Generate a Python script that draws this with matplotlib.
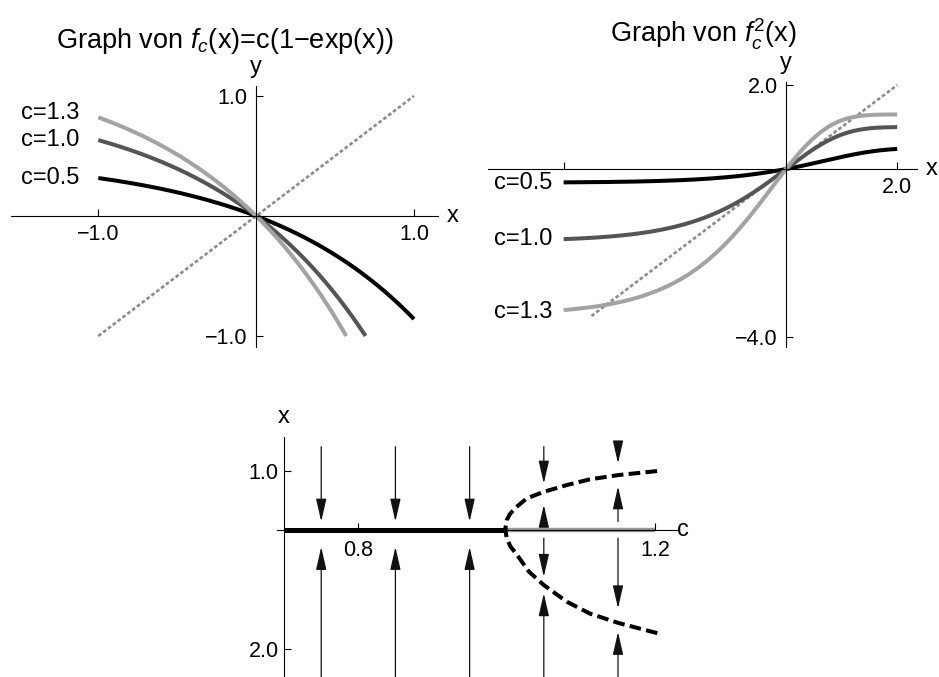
import numpy as np
import matplotlib.pyplot as plt

plt.rcParams['font.family'] = ['Liberation Sans', 'DejaVu Sans']
plt.rcParams['mathtext.fontset'] = 'custom'
plt.rcParams['mathtext.rm'] = 'Liberation Sans'
plt.rcParams['mathtext.it'] = 'Liberation Sans:italic'

# --- data ---
c_vals = [0.5, 1.0, 1.3]
c_labels = ['c=0.5', 'c=1.0', 'c=1.3']
c_colors = ['#000000', '#555555', '#a3a3a3']
x_range_f = [-1.0, 1.0]          # domain of f_c plot (clipped at y=-1)
x_range_f2 = [-4.0, 2.0]         # domain of f_c^2 plot
diag_f = [-1.0, 1.0]
diag_f2 = [-3.5, 2.0]
label_y_f = [0.317, 0.633, 0.858]
label_y_f2 = [-0.333, -1.667, -3.405]

# bifurcation diagram
stable_c = [0.7, 1.0]
unstable_c = [1.0, 1.2]
orbit_c = [1.203, 1.151, 1.112, 1.081, 1.05, 1.03, 1.014, 1.005, 1.0, 0.998,
           1.0, 1.004, 1.011, 1.027, 1.05, 1.081, 1.112, 1.151, 1.203]
orbit_x = [-1.73, -1.56, -1.40, -1.20, -0.92, -0.695, -0.414, -0.27, -0.13, 0.02,
           0.17, 0.27, 0.372, 0.54, 0.65, 0.764, 0.86, 0.933, 1.0]
arrow_c = [0.75, 0.85, 0.95, 1.05, 1.15]
top_start = 1.41
top_tip = [0.15, 0.15, 0.15, 0.79, 1.13]
bottom_start = -2.47
bottom_tip = [-0.28, -0.28, -0.28, -1.06, -1.71]
mid_c = [1.05, 1.15]
mid_up_start = [0.12, 0.15]
mid_up_tip = [0.43, 0.74]
mid_down_start = [-0.13, -0.13]
mid_down_tip = [-0.78, -1.31]

TICK_FS = 15.5
LAB_FS = 17
TITLE_FS = 19.5


def cross_axes(ax, x0=0.0, y0=0.0):
    for s in ['top', 'right']:
        ax.spines[s].set_visible(False)
    ax.spines['left'].set_position(('data', x0))
    ax.spines['bottom'].set_position(('data', y0))
    for s in ['left', 'bottom']:
        ax.spines[s].set_linewidth(0.8)
    ax.tick_params(direction='in', length=5, width=0.8, labelsize=TICK_FS, pad=6)
    ax.patch.set_alpha(0)


fig = plt.figure(figsize=(9.39, 6.77), dpi=100)

# ---------- top left: f_c ----------
ax1 = fig.add_axes([10.7 / 939, 1 - 347 / 677, (438 - 10.7) / 939, (347 - 86) / 677])
ax1.set_xlim(-1.555, 1.152)
ax1.set_ylim(-1.092, 1.083)
cross_axes(ax1)
ax1.plot(diag_f, diag_f, color='#8c8c8c', lw=1.9, ls=(0, (1.4, 0.9)))
for c, col, lab, ly in zip(c_vals, c_colors, c_labels, label_y_f):
    x_end = min(x_range_f[1], np.log(1 + 1 / c))
    xs = np.linspace(x_range_f[0], x_end, 300)
    ax1.plot(xs, c * (1 - np.exp(xs)), color=col, lw=2.9, solid_capstyle='butt')
    ax1.text(-1.12, ly, lab, ha='right', va='center', fontsize=LAB_FS)
ax1.set_xticks([-1.0, 1.0], ['\u22121.0', '1.0'])
ax1.set_yticks([1.0, -1.0], ['1.0', '\u22121.0'])
ax1.text(1.247, 0, 'x', ha='center', va='center', fontsize=LAB_FS)
ax1.text(0, 1.242, 'y', ha='center', va='center', fontsize=LAB_FS)
fig.text(225 / 939, 1 - 48 / 677, r'Graph von $f_c$(x)=c(1$-$exp(x))',
         ha='center', va='baseline', fontsize=TITLE_FS)

# ---------- top right: f_c^2 ----------
ax2 = fig.add_axes([488 / 939, 1 - 346.7 / 677, (917 - 488) / 939, (346.7 - 81.7) / 677])
ax2.set_xlim(-5.36, 2.356)
ax2.set_ylim(-4.23, 2.08)
cross_axes(ax2)
ax2.plot(diag_f2, diag_f2, color='#8c8c8c', lw=1.9, ls=(0, (1.4, 0.9)))
for c, col, lab, ly in zip(c_vals, c_colors, c_labels, label_y_f2):
    xs = np.linspace(x_range_f2[0], x_range_f2[1], 400)
    ys = c * (1 - np.exp(c * (1 - np.exp(xs))))
    ax2.plot(xs, ys, color=col, lw=2.9, solid_capstyle='butt')
    ax2.text(-4.21, ly, lab, ha='right', va='center', fontsize=LAB_FS)
ax2.set_xticks([-4.0, 2.0], ['', '2.0'])
ax2.set_yticks([2.0, -4.0], ['2.0', '\u22124.0'])
ax2.text(2.62, 0, 'x', ha='center', va='center', fontsize=LAB_FS)
ax2.text(0, 2.52, 'y', ha='center', va='center', fontsize=LAB_FS)
fig.text(703 / 939, 1 - 42 / 677, r'Graph von $f_c^{\mathrm{2}}$(x)',
         ha='center', va='baseline', fontsize=TITLE_FS)

# ---------- bottom: bifurcation diagram ----------
ax3 = fig.add_axes([276.7 / 939, 0, (677 - 276.7) / 939, 1 - 436.7 / 677])
ax3.set_xlim(0.69, 1.2295)
ax3.set_ylim(-2.468, 1.578)
cross_axes(ax3, x0=0.7)
ax3.spines['left'].set_zorder(5)
ax3.spines['bottom'].set_zorder(5)
ax3.plot(unstable_c, [0, 0], color='#999999', lw=3.2, solid_capstyle='butt', zorder=3)
ax3.plot(stable_c, [0, 0], color='black', lw=3.6, solid_capstyle='butt', zorder=3)
ax3.plot(orbit_c, orbit_x, color='black', lw=2.9, ls=(0, (2.9, 1.3)), zorder=3)


def arrow(ax, c, y0, y1):
    ax.annotate('', xy=(c, y1), xytext=(c, y0), annotation_clip=False,
                arrowprops=dict(arrowstyle='-|>,head_length=1.4,head_width=0.32',
                                color='#111111', lw=0.9, shrinkA=0, shrinkB=0,
                                mutation_scale=10))


for c, t1, t2 in zip(arrow_c, top_tip, bottom_tip):
    arrow(ax3, c, top_start, t1)
    arrow(ax3, c, bottom_start, t2)
for c, s1, t1, s2, t2 in zip(mid_c, mid_up_start, mid_up_tip, mid_down_start, mid_down_tip):
    arrow(ax3, c, s1, t1)
    arrow(ax3, c, s2, t2)

ax3.set_xticks([0.8, 1.2], ['0.8', '1.2'])
ax3.set_yticks([1.0, -2.0], ['1.0', '2.0'])
ax3.tick_params(axis='x', pad=7)
ax3.tick_params(axis='y', pad=4)
ax3.text(1.2375, 0, 'c', ha='center', va='center', fontsize=LAB_FS)
ax3.text(0.7, 1.909, 'x', ha='center', va='center', fontsize=LAB_FS)

fig.savefig('out.png', dpi=100, facecolor='white')
